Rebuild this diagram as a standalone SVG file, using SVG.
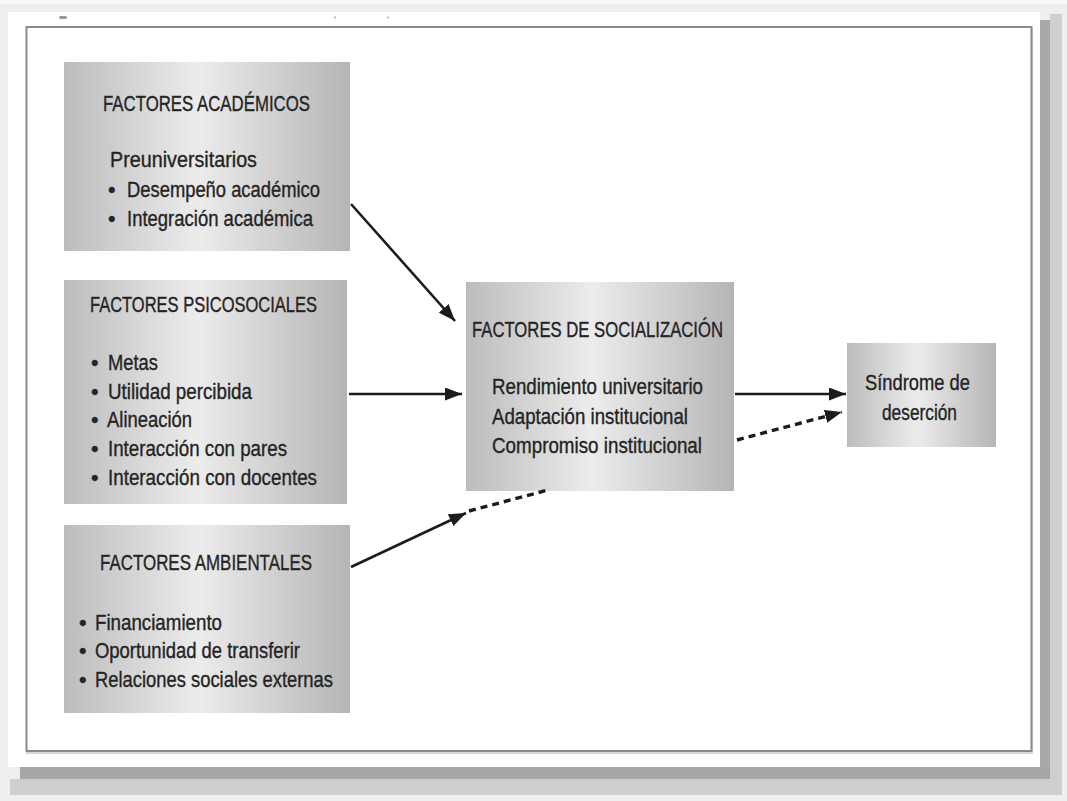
<svg xmlns="http://www.w3.org/2000/svg" width="1067" height="801" viewBox="0 0 1067 801">
<style>
.t{font-family:"Liberation Sans",Arial,sans-serif;font-size:21.5px;fill:#242424;stroke:#242424;stroke-width:0.35;}
.box{fill:url(#g);}
.ln{stroke:#1c1c1c;stroke-width:2.6;fill:none;}
.dl{stroke:#1c1c1c;stroke-width:3.4;fill:none;stroke-dasharray:7 5;}
</style>
<defs>
<linearGradient id="g" x1="0" y1="0" x2="1" y2="0">
<stop offset="0" stop-color="#bcbcbc"/>
<stop offset="0.47" stop-color="#ececec"/>
<stop offset="1" stop-color="#b5b5b5"/>
</linearGradient>
<marker id="ah" markerUnits="userSpaceOnUse" markerWidth="18" markerHeight="13" refX="17" refY="6.5" orient="auto">
<path d="M0,0 L17,6.5 L0,13 z" fill="#1c1c1c" stroke="none"/>
</marker>
</defs>
<!-- background and card -->
<rect x="0" y="0" width="1067" height="801" fill="#efefef"/>
<rect x="0" y="0" width="1067" height="4" fill="#f8f8f8"/>
<rect x="1050" y="14" width="12" height="781" fill="#cfcfcf"/>
<rect x="10" y="779" width="1052" height="16" fill="#cfcfcf"/>
<rect x="1040" y="20" width="10" height="759" fill="#a9a9a9"/>
<rect x="20" y="767" width="1030" height="12" fill="#a7a7a7"/>
<rect x="8" y="12" width="1032" height="755" fill="#ffffff"/>
<rect x="27" y="29" width="1005" height="724" fill="none" stroke="#d8d8d8" stroke-width="2"/>
<rect x="26.5" y="27" width="1005" height="724" fill="#ffffff" stroke="#8a8a8a" stroke-width="2"/>
<rect x="59" y="16" width="8" height="3" rx="1.5" fill="#9a9a9a"/>
<circle cx="335" cy="17.5" r="1.2" fill="#c4c4c4"/>
<circle cx="388" cy="17.5" r="1.2" fill="#c4c4c4"/>

<g id="academicos">
<rect class="box" x="64" y="62" width="286" height="189"/>
<text class="t" x="103" y="111" textLength="207" lengthAdjust="spacingAndGlyphs">FACTORES ACADÉMICOS</text>
<text class="t" x="110" y="167" textLength="147" lengthAdjust="spacingAndGlyphs">Preuniversitarios</text>
<text class="t" x="108" y="197">•</text>
<text class="t" x="127" y="197" textLength="193" lengthAdjust="spacingAndGlyphs">Desempeño académico</text>
<text class="t" x="108" y="226">•</text>
<text class="t" x="127" y="226" textLength="186" lengthAdjust="spacingAndGlyphs">Integración académica</text>
</g>

<g id="psicosociales">
<rect class="box" x="64" y="280" width="283" height="224"/>
<text class="t" x="90" y="312" textLength="227" lengthAdjust="spacingAndGlyphs">FACTORES PSICOSOCIALES</text>
<text class="t" x="91" y="370">•</text>
<text class="t" x="108" y="370" textLength="50" lengthAdjust="spacingAndGlyphs">Metas</text>
<text class="t" x="91" y="399">•</text>
<text class="t" x="108" y="399" textLength="144" lengthAdjust="spacingAndGlyphs">Utilidad percibida</text>
<text class="t" x="91" y="427">•</text>
<text class="t" x="107" y="427" textLength="85" lengthAdjust="spacingAndGlyphs">Alineación</text>
<text class="t" x="91" y="456">•</text>
<text class="t" x="108" y="456" textLength="179" lengthAdjust="spacingAndGlyphs">Interacción con pares</text>
<text class="t" x="91" y="485">•</text>
<text class="t" x="108" y="485" textLength="209" lengthAdjust="spacingAndGlyphs">Interacción con docentes</text>
</g>

<g id="ambientales">
<rect class="box" x="64" y="525" width="286" height="188"/>
<text class="t" x="100" y="570" textLength="212" lengthAdjust="spacingAndGlyphs">FACTORES AMBIENTALES</text>
<text class="t" x="79" y="630">•</text>
<text class="t" x="95" y="630" textLength="127" lengthAdjust="spacingAndGlyphs">Financiamiento</text>
<text class="t" x="79" y="658">•</text>
<text class="t" x="95" y="658" textLength="205" lengthAdjust="spacingAndGlyphs">Oportunidad de transferir</text>
<text class="t" x="79" y="687">•</text>
<text class="t" x="95" y="687" textLength="238" lengthAdjust="spacingAndGlyphs">Relaciones sociales externas</text>
</g>

<g id="socializacion">
<rect class="box" x="466" y="282" width="268" height="209"/>
<text class="t" x="472" y="337" textLength="251" lengthAdjust="spacingAndGlyphs">FACTORES DE SOCIALIZACIÓN</text>
<text class="t" x="492" y="394" textLength="211" lengthAdjust="spacingAndGlyphs">Rendimiento universitario</text>
<text class="t" x="492" y="424" textLength="196" lengthAdjust="spacingAndGlyphs">Adaptación institucional</text>
<text class="t" x="492" y="453" textLength="210" lengthAdjust="spacingAndGlyphs">Compromiso institucional</text>
</g>

<g id="sindrome">
<rect class="box" x="847" y="343" width="149" height="104"/>
<text class="t" x="865" y="390" textLength="105" lengthAdjust="spacingAndGlyphs">Síndrome de</text>
<text class="t" x="882" y="420" textLength="75" lengthAdjust="spacingAndGlyphs">deserción</text>
</g>

<g id="connectors">
<line class="ln" x1="351" y1="204" x2="455" y2="321" marker-end="url(#ah)"/>
<line class="ln" x1="349" y1="394" x2="462" y2="394" marker-end="url(#ah)"/>
<line class="ln" x1="351" y1="567" x2="466" y2="513" marker-end="url(#ah)"/>
<line class="dl" x1="469" y1="511" x2="548" y2="490"/>
<line class="ln" x1="735" y1="394" x2="846" y2="394" marker-end="url(#ah)"/>
<line class="dl" x1="737" y1="440" x2="842" y2="412" marker-end="url(#ah)"/>
</g>
</svg>
